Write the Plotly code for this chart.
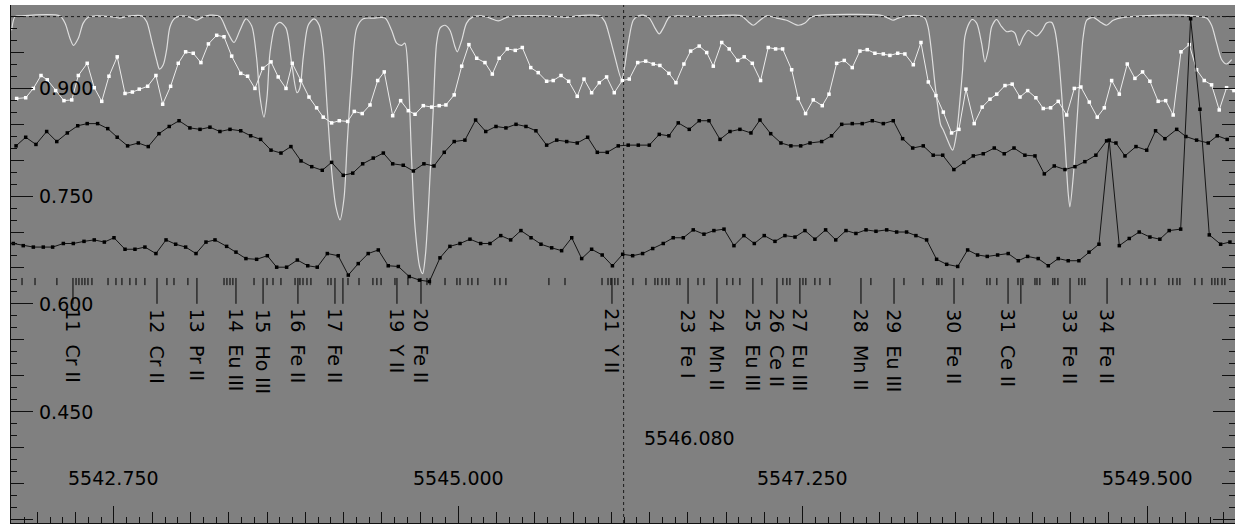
import plotly.graph_objects as go

# ---------------- data ----------------
wave_synth = [5542.081, 5542.103, 5542.136, 5542.397, 5542.430, 5542.462, 5542.485, 5542.517, 5542.549, 5542.582,
              5542.637, 5542.724, 5542.789, 5542.854, 5542.933, 5542.964, 5542.996, 5543.029, 5543.047, 5543.072,
              5543.094, 5543.116, 5543.149, 5543.203, 5543.260, 5543.290, 5543.325, 5543.377, 5543.442, 5543.486,
              5543.534, 5543.573, 5543.612, 5543.650, 5543.682, 5543.704, 5543.730, 5543.750, 5543.769, 5543.802,
              5543.835, 5543.874, 5543.911, 5543.946, 5543.965, 5543.987, 5544.019, 5544.057, 5544.091, 5544.117,
              5544.144, 5544.172, 5544.200, 5544.227, 5544.253, 5544.274, 5544.303, 5544.336, 5544.379, 5544.444,
              5544.521, 5544.564, 5544.597, 5544.630, 5544.651, 5544.673, 5544.695, 5544.717, 5544.749, 5544.767,
              5544.785, 5544.804, 5544.836, 5544.858, 5544.880, 5544.913, 5544.945, 5544.978, 5544.993, 5545.022,
              5545.054, 5545.098, 5545.152, 5545.207, 5545.261, 5545.316, 5545.381, 5545.555, 5545.643, 5545.708,
              5545.773, 5545.860, 5545.925, 5545.958, 5545.991, 5546.023, 5546.067, 5546.110, 5546.143, 5546.176,
              5546.208, 5546.248, 5546.285, 5546.313, 5546.339, 5546.378, 5546.427, 5546.557, 5546.666, 5546.796,
              5546.851, 5546.894, 5546.927, 5546.971, 5547.015, 5547.080, 5547.145, 5547.221, 5547.265, 5547.298,
              5547.330, 5547.755, 5547.809, 5547.842, 5547.875, 5547.929, 5548.016, 5548.049, 5548.071, 5548.093,
              5548.114, 5548.136, 5548.152, 5548.169, 5548.191, 5548.230, 5548.256, 5548.278, 5548.295, 5548.310,
              5548.338, 5548.358, 5548.387, 5548.419, 5548.441, 5548.463, 5548.485, 5548.517, 5548.550, 5548.583,
              5548.616, 5548.637, 5548.665, 5548.691, 5548.724, 5548.746, 5548.779, 5548.812, 5548.844, 5548.877,
              5548.898, 5548.920, 5548.942, 5548.964, 5548.985, 5548.996, 5549.018, 5549.040, 5549.062, 5549.083,
              5549.106, 5549.149, 5549.192, 5549.236, 5549.279, 5549.345, 5549.475, 5549.584, 5549.737, 5549.846,
              5549.890, 5549.922, 5549.955, 5549.988, 5550.020, 5550.053]
flux_synth = [0.981, 1.000, 1.001, 1.001, 0.991, 0.970, 0.960, 0.970, 0.991, 0.999,
              1.001, 1.000, 0.998, 1.001, 1.001, 0.993, 0.967, 0.939, 0.927, 0.933,
              0.954, 0.986, 0.998, 1.001, 0.998, 0.995, 0.999, 1.002, 1.000, 0.981,
              0.964, 0.981, 0.997, 0.987, 0.942, 0.888, 0.860, 0.888, 0.949, 0.986,
              0.992, 0.984, 0.935, 0.894, 0.901, 0.944, 0.988, 0.997, 0.988, 0.954,
              0.870, 0.786, 0.735, 0.717, 0.747, 0.824, 0.916, 0.984, 0.997, 0.998,
              0.998, 0.981, 0.963, 0.960, 0.963, 0.916, 0.800, 0.707, 0.650, 0.642,
              0.668, 0.731, 0.870, 0.963, 0.984, 0.988, 0.981, 0.958, 0.951, 0.967,
              0.991, 1.000, 1.001, 0.998, 0.994, 0.999, 1.001, 1.001, 1.000, 0.999,
              1.001, 1.002, 1.001, 0.993, 0.970, 0.944, 0.913, 0.963, 0.995, 1.001,
              1.002, 0.998, 0.984, 0.976, 0.984, 0.999, 1.001, 1.000, 1.001, 1.002,
              1.001, 0.993, 0.988, 0.995, 1.001, 0.998, 0.995, 0.988, 0.991, 0.998,
              1.001, 1.002, 0.998, 0.995, 0.998, 1.001, 1.001, 0.998, 0.984, 0.949,
              0.907, 0.870, 0.849, 0.842, 0.831, 0.814, 0.838, 0.884, 0.926, 0.972,
              0.991, 0.996, 0.991, 0.963, 0.937, 0.954, 0.986, 0.996, 0.986, 0.979,
              0.980, 0.977, 0.960, 0.972, 0.981, 0.978, 0.973, 0.980, 0.991, 0.992,
              0.981, 0.949, 0.893, 0.824, 0.754, 0.735, 0.777, 0.847, 0.916, 0.972,
              0.995, 0.999, 0.993, 0.988, 0.995, 0.999, 1.001, 1.002, 1.002, 1.000,
              0.998, 0.988, 0.963, 0.940, 0.934, 0.940]

wave_obs1 = [5542.114, 5542.173, 5542.223, 5542.273, 5542.314, 5542.369, 5542.423, 5542.474, 5542.517, 5542.575,
             5542.621, 5542.670, 5542.717, 5542.771, 5542.822, 5542.870, 5542.915, 5542.970, 5543.024, 5543.068,
             5543.120, 5543.170, 5543.218, 5543.268, 5543.318, 5543.367, 5543.421, 5543.469, 5543.519, 5543.578,
             5543.623, 5543.671, 5543.722, 5543.776, 5543.823, 5543.874, 5543.915, 5543.970, 5544.024, 5544.074,
             5544.117, 5544.172, 5544.222, 5544.277, 5544.320, 5544.372, 5544.423, 5544.473, 5544.516, 5544.571,
             5544.623, 5544.673, 5544.717, 5544.771, 5544.826, 5544.875, 5544.919, 5544.973, 5545.022, 5545.069,
             5545.120, 5545.174, 5545.222, 5545.267, 5545.320, 5545.372, 5545.418, 5545.473, 5545.522, 5545.577,
             5545.620, 5545.671, 5545.721, 5545.777, 5545.821, 5545.871, 5545.921, 5545.969, 5546.019, 5546.071,
             5546.117, 5546.172, 5546.224, 5546.274, 5546.317, 5546.376, 5546.422, 5546.474, 5546.518, 5546.574,
             5546.623, 5546.666, 5546.721, 5546.770, 5546.825, 5546.868, 5546.921, 5546.975, 5547.025, 5547.073,
             5547.119, 5547.178, 5547.221, 5547.269, 5547.319, 5547.378, 5547.422, 5547.472, 5547.522, 5547.574,
             5547.624, 5547.672, 5547.722, 5547.777, 5547.820, 5547.871, 5547.918, 5547.973, 5548.023, 5548.071,
             5548.121, 5548.169, 5548.223, 5548.271, 5548.317, 5548.371, 5548.423, 5548.474, 5548.518, 5548.572,
             5548.619, 5548.670, 5548.720, 5548.774, 5548.822, 5548.870, 5548.920, 5548.975, 5549.025, 5549.068,
             5549.123, 5549.175, 5549.221, 5549.269, 5549.319, 5549.371, 5549.421, 5549.471, 5549.519, 5549.573,
             5549.622, 5549.671, 5549.722, 5549.776, 5549.824, 5549.874, 5549.922, 5549.972, 5550.020, 5550.068]
flux_obs1 = [0.886, 0.887, 0.900, 0.918, 0.912, 0.897, 0.883, 0.884, 0.918, 0.935,
             0.901, 0.882, 0.917, 0.944, 0.893, 0.895, 0.899, 0.903, 0.918, 0.878,
             0.903, 0.935, 0.951, 0.949, 0.936, 0.962, 0.974, 0.972, 0.945, 0.921,
             0.917, 0.900, 0.928, 0.937, 0.916, 0.900, 0.935, 0.911, 0.888, 0.873,
             0.860, 0.852, 0.855, 0.854, 0.868, 0.865, 0.877, 0.911, 0.923, 0.862,
             0.883, 0.869, 0.864, 0.876, 0.874, 0.876, 0.877, 0.891, 0.931, 0.961,
             0.942, 0.936, 0.920, 0.942, 0.955, 0.953, 0.957, 0.929, 0.922, 0.910,
             0.911, 0.918, 0.910, 0.889, 0.913, 0.894, 0.908, 0.916, 0.894, 0.911,
             0.913, 0.936, 0.938, 0.934, 0.932, 0.921, 0.908, 0.934, 0.952, 0.959,
             0.950, 0.931, 0.964, 0.955, 0.939, 0.944, 0.935, 0.911, 0.957, 0.955,
             0.955, 0.926, 0.886, 0.865, 0.884, 0.876, 0.892, 0.935, 0.939, 0.929,
             0.952, 0.954, 0.949, 0.948, 0.946, 0.949, 0.948, 0.933, 0.964, 0.909,
             0.890, 0.867, 0.838, 0.843, 0.899, 0.851, 0.874, 0.885, 0.892, 0.904,
             0.906, 0.888, 0.897, 0.887, 0.872, 0.873, 0.882, 0.863, 0.900, 0.902,
             0.881, 0.860, 0.873, 0.911, 0.892, 0.934, 0.914, 0.923, 0.910, 0.882,
             0.883, 0.863, 0.951, 0.961, 0.926, 0.911, 0.905, 0.870, 0.901, 0.897]

wave_obs2 = [5542.110, 5542.173, 5542.240, 5542.310, 5542.376, 5542.445, 5542.513, 5542.575, 5542.643, 5542.709,
             5542.771, 5542.839, 5542.909, 5542.974, 5543.044, 5543.111, 5543.175, 5543.246, 5543.312, 5543.377,
             5543.442, 5543.508, 5543.578, 5543.643, 5543.708, 5543.776, 5543.841, 5543.906, 5543.972, 5544.042,
             5544.111, 5544.172, 5544.248, 5544.310, 5544.375, 5544.444, 5544.510, 5544.571, 5544.640, 5544.706,
             5544.775, 5544.841, 5544.908, 5544.973, 5545.043, 5545.113, 5545.179, 5545.246, 5545.311, 5545.377,
             5545.442, 5545.507, 5545.577, 5545.643, 5545.708, 5545.777, 5545.845, 5545.908, 5545.973, 5546.045,
             5546.110, 5546.176, 5546.248, 5546.313, 5546.376, 5546.437, 5546.509, 5546.574, 5546.638, 5546.710,
             5546.775, 5546.840, 5546.912, 5546.971, 5547.041, 5547.108, 5547.173, 5547.237, 5547.298, 5547.374,
             5547.439, 5547.505, 5547.574, 5547.639, 5547.705, 5547.777, 5547.842, 5547.903, 5547.969, 5548.038,
             5548.103, 5548.165, 5548.238, 5548.304, 5548.365, 5548.430, 5548.502, 5548.567, 5548.631, 5548.702,
             5548.768, 5548.829, 5548.894, 5548.964, 5549.029, 5549.094, 5549.166, 5549.236, 5549.297, 5549.356,
             5549.428, 5549.498, 5549.556, 5549.617, 5549.694, 5549.754, 5549.824, 5549.900, 5549.959, 5550.024]
flux_obs2 = [0.820, 0.832, 0.822, 0.840, 0.826, 0.838, 0.848, 0.851, 0.851, 0.844,
             0.832, 0.820, 0.824, 0.819, 0.837, 0.847, 0.855, 0.845, 0.843, 0.846,
             0.840, 0.843, 0.841, 0.834, 0.829, 0.814, 0.810, 0.819, 0.799, 0.791,
             0.786, 0.797, 0.779, 0.782, 0.795, 0.803, 0.810, 0.795, 0.793, 0.785,
             0.795, 0.792, 0.811, 0.826, 0.828, 0.856, 0.840, 0.847, 0.845, 0.850,
             0.847, 0.841, 0.821, 0.828, 0.826, 0.824, 0.832, 0.811, 0.811, 0.820,
             0.821, 0.821, 0.821, 0.836, 0.834, 0.852, 0.843, 0.855, 0.855, 0.829,
             0.840, 0.843, 0.838, 0.856, 0.837, 0.824, 0.820, 0.820, 0.824, 0.826,
             0.834, 0.850, 0.851, 0.851, 0.855, 0.851, 0.855, 0.830, 0.817, 0.820,
             0.807, 0.807, 0.787, 0.797, 0.806, 0.809, 0.817, 0.809, 0.817, 0.807,
             0.806, 0.781, 0.792, 0.787, 0.791, 0.798, 0.807, 0.827, 0.824, 0.806,
             0.819, 0.814, 0.841, 0.830, 0.843, 0.833, 0.828, 0.824, 0.834, 0.829]

wave_obs3 = [5542.092, 5542.157, 5542.223, 5542.288, 5542.349, 5542.419, 5542.484, 5542.554, 5542.621, 5542.687,
             5542.750, 5542.822, 5542.887, 5542.952, 5543.024, 5543.090, 5543.153, 5543.218, 5543.286, 5543.351,
             5543.410, 5543.486, 5543.547, 5543.612, 5543.682, 5543.752, 5543.813, 5543.878, 5543.948, 5544.016,
             5544.078, 5544.144, 5544.215, 5544.281, 5544.346, 5544.411, 5544.477, 5544.542, 5544.608, 5544.679,
             5544.746, 5544.811, 5544.880, 5544.945, 5545.011, 5545.076, 5545.146, 5545.207, 5545.277, 5545.342,
             5545.409, 5545.475, 5545.540, 5545.610, 5545.675, 5545.741, 5545.806, 5545.871, 5545.940, 5546.007,
             5546.074, 5546.139, 5546.204, 5546.270, 5546.339, 5546.404, 5546.470, 5546.535, 5546.605, 5546.670,
             5546.736, 5546.801, 5546.866, 5546.934, 5546.999, 5547.069, 5547.134, 5547.200, 5547.265, 5547.330,
             5547.400, 5547.466, 5547.533, 5547.598, 5547.664, 5547.729, 5547.799, 5547.864, 5547.929, 5547.990,
             5548.060, 5548.125, 5548.191, 5548.263, 5548.328, 5548.393, 5548.456, 5548.524, 5548.593, 5548.659,
             5548.720, 5548.789, 5548.855, 5548.920, 5548.985, 5549.055, 5549.121, 5549.186, 5549.253, 5549.319,
             5549.384, 5549.449, 5549.519, 5549.584, 5549.645, 5549.720, 5549.785, 5549.846, 5549.907, 5549.981,
             5550.042]
flux_obs3 = [0.684, 0.681, 0.679, 0.679, 0.679, 0.684, 0.684, 0.687, 0.689, 0.686,
             0.692, 0.676, 0.676, 0.679, 0.670, 0.689, 0.683, 0.679, 0.670, 0.686,
             0.689, 0.680, 0.672, 0.663, 0.662, 0.667, 0.651, 0.651, 0.661, 0.653,
             0.651, 0.670, 0.667, 0.640, 0.656, 0.670, 0.675, 0.653, 0.652, 0.638,
             0.633, 0.631, 0.664, 0.680, 0.684, 0.690, 0.684, 0.684, 0.695, 0.689,
             0.702, 0.692, 0.683, 0.678, 0.674, 0.692, 0.663, 0.676, 0.668, 0.653,
             0.669, 0.667, 0.670, 0.677, 0.684, 0.692, 0.692, 0.703, 0.697, 0.702,
             0.704, 0.681, 0.695, 0.684, 0.695, 0.687, 0.695, 0.693, 0.702, 0.690,
             0.703, 0.689, 0.702, 0.698, 0.703, 0.701, 0.703, 0.700, 0.700, 0.695,
             0.689, 0.662, 0.655, 0.652, 0.675, 0.668, 0.666, 0.668, 0.670, 0.660,
             0.666, 0.663, 0.653, 0.663, 0.660, 0.660, 0.672, 0.683, 0.828, 0.681,
             0.691, 0.700, 0.693, 0.690, 0.702, 0.704, 0.997, 0.871, 0.696, 0.683,
             0.686]

# identified lines: unlabeled short markers
line_wave = [5542.149, 5542.234, 5542.377, 5542.502, 5542.521, 5542.541, 5542.560, 5542.580, 5542.606, 5542.711,
             5542.763, 5542.802, 5542.854, 5542.894, 5542.952, 5543.096, 5543.142, 5543.233, 5543.469, 5543.488,
             5543.508, 5543.527, 5543.665, 5543.750, 5543.789, 5543.841, 5543.933, 5543.965, 5543.985, 5544.011,
             5544.037, 5544.148, 5544.168, 5544.279, 5544.351, 5544.442, 5544.468, 5544.495, 5544.586, 5544.671,
             5544.795, 5544.815, 5544.913, 5544.991, 5545.011, 5545.063, 5545.089, 5545.128, 5545.239, 5545.272,
             5545.311, 5545.592, 5545.697, 5545.939, 5545.978, 5545.997, 5546.023, 5546.043, 5546.141, 5546.226,
             5546.285, 5546.304, 5546.331, 5546.357, 5546.376, 5546.429, 5546.448, 5546.566, 5546.605, 5546.755,
             5546.794, 5546.840, 5546.984, 5547.121, 5547.147, 5547.167, 5547.252, 5547.271, 5547.330, 5547.363,
             5547.428, 5547.696, 5547.912, 5548.036, 5548.127, 5548.140, 5548.160, 5548.297, 5548.454, 5548.474,
             5548.519, 5548.657, 5548.689, 5548.768, 5548.781, 5548.800, 5548.885, 5548.898, 5548.918, 5549.055,
             5549.075, 5549.094, 5549.336, 5549.388, 5549.460, 5549.500, 5549.552, 5549.643, 5549.669, 5549.696,
             5549.715, 5549.813, 5549.859, 5549.924, 5549.944, 5549.963, 5549.990, 5550.009]
line_long_wave = [5544.246, 5548.676]
label_wave = [5542.482, 5543.031, 5543.292, 5543.547, 5543.724, 5543.952, 5544.194, 5544.599, 5544.756, 5546.004,
              5546.501, 5546.690, 5546.925, 5547.082, 5547.232, 5547.631, 5547.847, 5548.239, 5548.592, 5548.997,
              5549.239]
label_text = ["11  Cr II", "12  Cr II", "13  Pr II", "14  Eu III", "15  Ho III", "16  Fe II", "17  Fe II",
              "19  Y II", "20  Fe II", "21  Y II", "23  Fe I", "24  Mn II", "25  Eu III", "26  Ce II",
              "27  Eu III", "28  Mn II", "29  Eu III", "30  Fe II", "31  Ce II", "33  Fe II", "34  Fe II"]

x_label_vals = [5542.75, 5545.00, 5547.25, 5549.50]
x_label_text = ["5542.750", "5545.000", "5547.250", "5549.500"]
y_label_vals = [0.900, 0.750, 0.600, 0.450]
y_label_text = ["0.900", "0.750", "0.600", "0.450"]

CENTER_WL = 5546.08
CENTER_TEXT = "5546.080"
CONTINUUM = 1.0

X_RANGE = [5542.077, 5550.075]
Y_RANGE = [0.2947, 1.0162]

# ---------------- figure ----------------
FONT = "DejaVu Sans"
fig = go.Figure()

fig.add_trace(go.Scatter(x=wave_synth, y=flux_synth, mode="lines",
                         line=dict(color="#dedede", width=1.2, shape="spline", smoothing=0.8),
                         hoverinfo="skip"))
fig.add_trace(go.Scatter(x=wave_obs1, y=flux_obs1, mode="lines+markers",
                         line=dict(color="#ececec", width=1),
                         marker=dict(symbol="square", size=3.5, color="#ffffff"),
                         hoverinfo="skip"))
fig.add_trace(go.Scatter(x=wave_obs2, y=flux_obs2, mode="lines+markers",
                         line=dict(color="#141414", width=1),
                         marker=dict(symbol="square", size=3.5, color="#000000"),
                         hoverinfo="skip"))
fig.add_trace(go.Scatter(x=wave_obs3, y=flux_obs3, mode="lines+markers",
                         line=dict(color="#141414", width=1),
                         marker=dict(symbol="square", size=3.5, color="#000000"),
                         hoverinfo="skip"))

# line identification marks
TICK_TOP, TICK_SHORT, TICK_LONG = 0.636, 0.626, 0.600
mx, my = [], []
for w in line_wave:
    mx += [w, w, None]
    my += [TICK_TOP, TICK_SHORT, None]
for w in label_wave + line_long_wave:
    mx += [w, w, None]
    my += [TICK_TOP, TICK_LONG, None]
fig.add_trace(go.Scatter(x=mx, y=my, mode="lines", xaxis="x2", yaxis="y2",
                         line=dict(color="#000000", width=1), hoverinfo="skip"))

ann = []
for w, t in zip(label_wave, label_text):
    ann.append(dict(x=w, y=0.596, xref="x", yref="y", text=t.replace(" ", "\u00a0"),
                    textangle=90, showarrow=False, xanchor="center", yanchor="top",
                    font=dict(family=FONT, size=19, color="black")))
for v, t in zip(x_label_vals, x_label_text):
    ann.append(dict(x=v, y=0.357, xref="x", yref="y", text=t, showarrow=False,
                    xanchor="center", yanchor="middle",
                    font=dict(family=FONT, size=19, color="black")))
for v, t in zip(y_label_vals, y_label_text):
    ann.append(dict(x=0.0212, y=v, xref="paper", yref="y", text=t, showarrow=False,
                    xanchor="left", yanchor="middle",
                    font=dict(family=FONT, size=19, color="black")))
ann.append(dict(x=CENTER_WL, y=0.4127, xref="x", yref="y", text=CENTER_TEXT, showarrow=False,
                xanchor="left", yanchor="middle", xshift=18,
                font=dict(family=FONT, size=19, color="black")))

shapes = [
    dict(type="line", xref="paper", x0=0, x1=1, yref="y", y0=CONTINUUM, y1=CONTINUUM,
         line=dict(color="#1a1a1a", width=1, dash="dot")),
    dict(type="line", xref="x", x0=CENTER_WL, x1=CENTER_WL, yref="paper", y0=0, y1=1,
         line=dict(color="#1a1a1a", width=1, dash="dot")),
]

fig.update_layout(
    width=1235, height=527,
    margin=dict(l=11, r=0, t=5, b=4),
    paper_bgcolor="white", plot_bgcolor="#808080",
    showlegend=False,
    font=dict(family=FONT, size=19, color="black"),
    annotations=ann, shapes=shapes,
    xaxis=dict(range=X_RANGE, showgrid=False, zeroline=False, showline=True,
               linecolor="#101010", linewidth=1, ticks="inside", tick0=5542.75, dtick=0.25,
               ticklen=11, tickcolor="#101010", showticklabels=False,
               minor=dict(ticks="inside", tick0=5542.75, dtick=1/12, ticklen=6,
                          tickcolor="#101010", showgrid=False)),
    xaxis2=dict(range=X_RANGE, overlaying="x", anchor="y", side="bottom", showgrid=False,
                zeroline=False, showline=False, ticks="inside", tick0=5542.75, dtick=2.25,
                ticklen=17, tickcolor="#101010", showticklabels=False),
    yaxis=dict(range=Y_RANGE, showgrid=False, zeroline=False, showline=True,
               linecolor="#101010", linewidth=1, mirror="allticks", ticks="inside",
               tick0=0, dtick=0.05, ticklen=13, tickcolor="#101010", showticklabels=False,
               minor=dict(ticks="inside", dtick=0.05/3, ticklen=6, tickcolor="#101010",
                          showgrid=False)),
    yaxis2=dict(range=Y_RANGE, overlaying="y", anchor="x", side="left", showgrid=False,
                zeroline=False, showline=False, mirror="allticks", ticks="inside",
                tick0=0, dtick=0.15, ticklen=22, tickcolor="#101010", showticklabels=False),
)

fig.write_html("out.html")
